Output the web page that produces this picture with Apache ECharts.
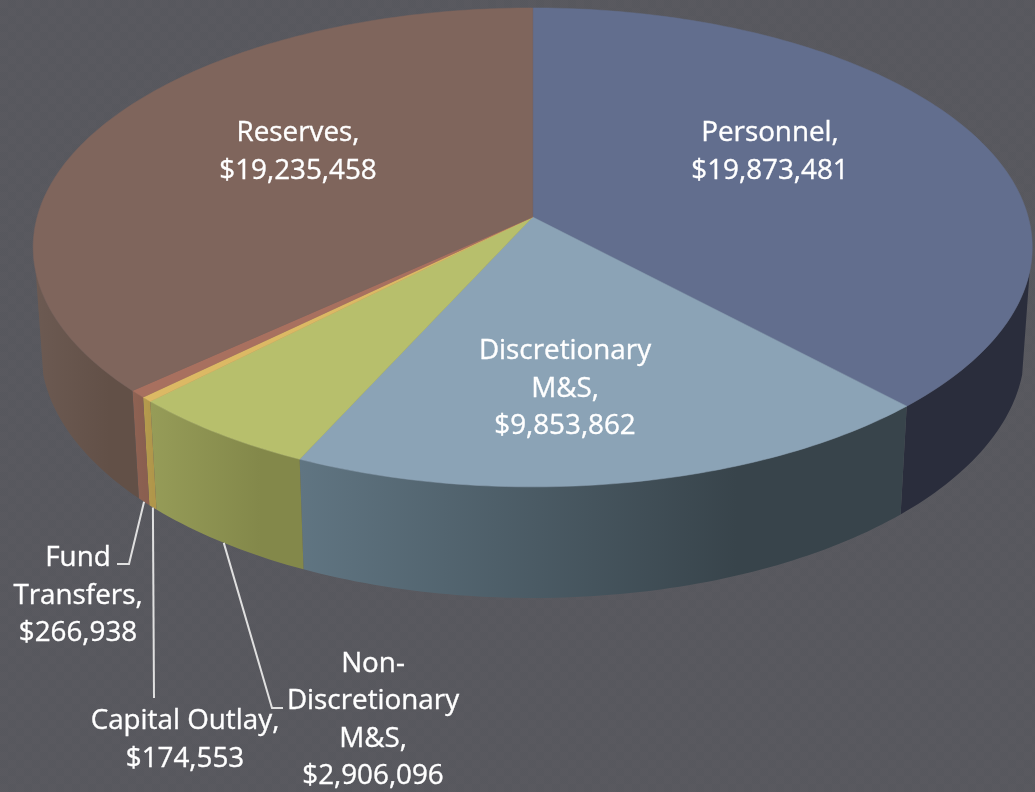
<!DOCTYPE html>
<html>
<head>
<meta charset="utf-8">
<style>html,body{margin:0;padding:0;background:#59595f;overflow:hidden}#c{width:1035px;height:792px}</style>
<script src="https://cdn.jsdelivr.net/npm/echarts@6/dist/echarts.min.js"></script>
</head>
<body>
<div id="c"></div>
<script>
const categories = ['Personnel', 'Discretionary\nM&S', 'Non-\nDiscretionary\nM&S', 'Capital Outlay', 'Fund\nTransfers', 'Reserves'];
const values = [19873481, 9853862, 2906096, 174553, 266938, 19235458];
const topColors = ['#626e8e', '#8ba3b6', '#b7bf6c', '#dcb964', '#a8705f', '#7f655c'];
const wallLeftColors = ['#2a2d3c', '#607582', '#969c58', '#b59b4e', '#8e6253', '#6c5a52'];
const wallRightColors = ['#2a2d3c', '#38444b', '#83884a', '#b0964a', '#8a5f50', '#625047'];
const labelCenters = [[770, 152], [565, 389], [373, 720], [185, 740], [78, 596], [298, 152]];
const leaderBends = [null, null, [[272, 708], [283, 708]], [[154, 698]], [[129, 564], [117, 564]], null];

// perspective model of the disc
const CX = 532.7, CY = 217, RX = 495.5, RY = 235.6, K = 0.127, M = 0.015, H = 102.7;
const WALL_FROM = 103, WALL_TO = 257; // silhouette tangents of the visible side wall
function project(deg, z) {
  const a = deg * Math.PI / 180, u = Math.sin(a), v = Math.cos(a);
  const w = 1 + K * v + M * z;
  return [CX + RX * u / w, CY + (-RY * v + H * z) / w];
}
const total = values.reduce((s, x) => s + x, 0);
const starts = [];
values.reduce((s, x, i) => { starts[i] = s; return s + x; }, 0);
const startDeg = i => starts[i] / total * 360;
const endDeg = i => (starts[i] + values[i]) / total * 360;
function arc(a0, a1, z) {
  const n = Math.max(2, Math.ceil((a1 - a0) / 1)), out = [];
  for (let k = 0; k <= n; k++) out.push(project(a0 + (a1 - a0) * k / n, z));
  return out;
}
function renderWall(params) {
  const i = params.dataIndex;
  const a0 = Math.max(startDeg(i), WALL_FROM), a1 = Math.min(endDeg(i), WALL_TO);
  const pts = arc(a0, a1, 0).concat(arc(a0, a1, 1).reverse());
  const fill = {type: 'linear', x: 0, y: 0, x2: 1, y2: 0, colorStops: [
    {offset: 0, color: wallLeftColors[i]}, {offset: 0.72, color: wallRightColors[i]}, {offset: 1, color: wallRightColors[i]}]};
  return {type: 'polygon', shape: {points: pts}, style: {fill: fill}, z2: 1};
}
function renderTop(params) {
  const i = params.dataIndex;
  const pts = [[CX, CY]].concat(arc(startDeg(i), endDeg(i), 0));
  return {type: 'polygon', shape: {points: pts},
    style: {fill: topColors[i], stroke: topColors[i], lineWidth: 0.5}, z2: 2};
}
function renderLabel(params) {
  const i = params.dataIndex, children = [];
  const c = labelCenters[i];
  const value = '$' + values[i].toLocaleString('en-US');
  const name = categories[i];
  children.push({type: 'text', z2: 4, style: {
    x: c[0], y: c[1], text: name + ',\n' + value, fill: '#ffffff',
    stroke: '#ffffff', lineWidth: 0.35,
    font: '27.8px "Open Sans"', lineHeight: 37.5, align: 'center', verticalAlign: 'middle'
  }});
  if (leaderBends[i]) {
    const mid = (startDeg(i) + endDeg(i)) / 2;
    children.push({type: 'polyline', z2: 3,
      shape: {points: [project(mid, 1)].concat(leaderBends[i])},
      style: {fill: 'none', stroke: '#e0e0e0', lineWidth: 2}});
  }
  return {type: 'group', children};
}
function tile() {
  const s = 16, cv = document.createElement('canvas');
  cv.width = cv.height = s;
  const g = cv.getContext('2d');
  for (let y = 0; y < s; y++) for (let x = 0; x < s; x++) {
    const big = ((x >> 3) + (y >> 3)) % 2, fine = (x + y) % 2;
    g.fillStyle = big ? (fine ? '#59595f' : '#56575d') : (fine ? '#5a5a60' : '#58585e');
    g.fillRect(x, y, 1, 1);
  }
  return cv;
}
const chart = echarts.init(document.getElementById('c'), null, {renderer: 'canvas'});
chart.setOption({
  animation: false,
  backgroundColor: {image: tile(), repeat: 'repeat'},
  series: [
    {type: 'custom', coordinateSystem: 'none', data: values, renderItem: renderWall, silent: true, z: 1},
    {type: 'custom', coordinateSystem: 'none', data: values, renderItem: renderTop, silent: true, z: 2},
    {type: 'custom', coordinateSystem: 'none', data: values, renderItem: renderLabel, silent: true, z: 3}
  ]
});
</script>
</body>
</html>
